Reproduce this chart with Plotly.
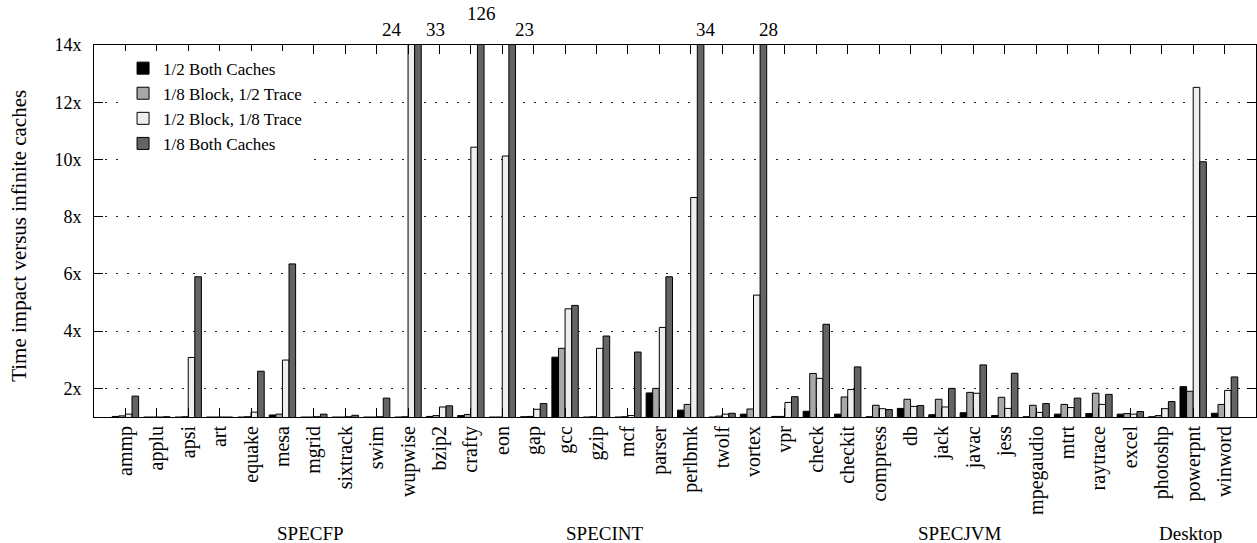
import plotly.graph_objects as go

benchmarks = ["ammp", "applu", "apsi", "art", "equake", "mesa", "mgrid", "sixtrack", "swim", "wupwise",
              "bzip2", "crafty", "eon", "gap", "gcc", "gzip", "mcf", "parser", "perlbmk", "twolf", "vortex", "vpr",
              "check", "checkit", "compress", "db", "jack", "javac", "jess", "mpegaudio", "mtrt", "raytrace",
              "excel", "photoshp", "powerpnt", "winword"]

series_names = ["1/2 Both Caches", "1/8 Block, 1/2 Trace", "1/2 Block, 1/8 Trace", "1/8 Both Caches"]

half_both = [1.02, 1.0, 1.0, 1.0, 1.0, 1.07, 1.0, 1.0, 1.0, 1.0,
             1.02, 1.05, 1.0, 1.01, 3.09, 1.0, 1.0, 1.84, 1.24, 1.0, 1.10, 1.02,
             1.20, 1.10, 1.01, 1.30, 1.08, 1.15, 1.05, 1.01, 1.10, 1.12,
             1.10, 1.01, 2.06, 1.13]
eighth_block_half_trace = [1.04, 1.0, 1.01, 1.0, 1.01, 1.10, 1.0, 1.0, 1.0, 1.01,
                           1.05, 1.09, 1.0, 1.02, 3.40, 1.01, 1.01, 2.00, 1.44, 1.03, 1.28, 1.02,
                           2.52, 1.70, 1.41, 1.62, 1.62, 1.86, 1.69, 1.41, 1.44, 1.83,
                           1.12, 1.05, 1.90, 1.44]
half_block_eighth_trace = [1.10, 1.0, 3.08, 1.0, 1.17, 2.99, 1.01, 1.01, 1.01, 24,
                           1.35, 10.43, 10.12, 1.27, 4.78, 3.40, 1.05, 4.13, 8.67, 1.10, 5.26, 1.51,
                           2.35, 1.96, 1.29, 1.37, 1.35, 1.83, 1.30, 1.16, 1.33, 1.44,
                           1.10, 1.29, 12.52, 1.93]
eighth_both = [1.73, 1.01, 5.90, 1.0, 2.60, 6.35, 1.10, 1.06, 1.66, 33,
               1.39, 126, 23, 1.47, 4.90, 3.83, 3.27, 5.90, 34, 1.13, 28, 1.71,
               4.24, 2.75, 1.26, 1.40, 2.00, 2.82, 2.53, 1.47, 1.66, 1.79,
               1.19, 1.54, 9.92, 2.40]

suite_names = ["SPECFP", "SPECINT", "SPECJVM", "Desktop"]
y_tick_values = [2, 4, 6, 8, 10, 12, 14]
y_tick_labels = ["2x", "4x", "6x", "8x", "10x", "12x", "14x"]

# ---- styling / layout (not data) ----
FONT = "Liberation Serif"
colors = ["#000000", "#a8a8a8", "#eeeeee", "#646464"]
y_min, y_max = 1, 14
suite_label_x = [5.9, 15.27, 26.59, 33.9]
# per-label offsets (px) for overflow value labels, in order of appearance
overflow_offsets = [(-19, 16), (18, 16), (1, 32), (12, 16), (5, 16), (5, 16)]

all_series = [half_both, eighth_block_half_trace, half_block_eighth_trace, eighth_both]
xs = list(range(len(benchmarks)))

fig = go.Figure()
for name, vals, col in zip(series_names, all_series, colors):
    fig.add_trace(go.Bar(
        x=xs, y=vals, name=name,
        marker=dict(color=col, line=dict(color="#000000", width=1)),
    ))

# overflow labels
bar_w = 0.21
offsets = [-1.5 * bar_w, -0.5 * bar_w, 0.5 * bar_w, 1.5 * bar_w]
k = 0
for ci in xs:
    for si, vals in enumerate(all_series):
        v = vals[ci]
        if v > y_max:
            dx, dy = overflow_offsets[k] if k < len(overflow_offsets) else (0, 16)
            fig.add_annotation(x=ci + offsets[si], y=1, xref="x", yref="paper",
                               text=f"{v:g}", showarrow=False, xshift=dx, yshift=dy,
                               yanchor="middle", font=dict(family=FONT, size=19, color="#000"))
            k += 1

for sx, sname in zip(suite_label_x, suite_names):
    fig.add_annotation(x=sx, y=0, xref="x", yref="paper", text=sname, showarrow=False,
                       yanchor="middle", yshift=-116, font=dict(family=FONT, size=19, color="#000"))

fig.add_annotation(x=0, y=0.487, xref="paper", yref="paper", text="Time impact versus infinite caches",
                   textangle=-90, showarrow=False, xshift=-75, xanchor="center", yanchor="middle",
                   font=dict(family=FONT, size=21, color="#000"))

fig.update_layout(
    width=1257, height=543,
    margin=dict(l=94, r=1, t=45, b=126, autoexpand=False),
    paper_bgcolor="white", plot_bgcolor="white",
    barmode="group", bargap=0.16, bargroupgap=0,
    font=dict(family=FONT, size=17, color="#000"),
    showlegend=True,
    legend=dict(x=0.025, y=0.985, xanchor="left", yanchor="top", bgcolor="white",
                font=dict(family=FONT, size=17, color="#000"), tracegroupgap=0),
    xaxis=dict(range=[-1, len(benchmarks)], tickmode="array", tickvals=xs, ticktext=benchmarks,
               tickangle=-90, ticks="inside", ticklen=9, tickcolor="#000", showline=True,
               linecolor="#000", linewidth=1, mirror="ticks", showgrid=False, zeroline=False,
               automargin=False,
               tickfont=dict(family=FONT, size=20, color="#000")),
    yaxis=dict(range=[y_min, y_max], tickmode="array", tickvals=y_tick_values, ticktext=y_tick_labels,
               ticks="inside", ticklen=9, tickcolor="#000", showline=True, linecolor="#000",
               linewidth=1, mirror="ticks", showgrid=True, gridcolor="#222", gridwidth=1,
               griddash="2px,9px", zeroline=False, ticklabelstandoff=8, automargin=False,
               tickfont=dict(family=FONT, size=18, color="#000")),
)

fig.write_html("out.html", config={"displayModeBar": False},
               post_script="document.body.style.margin='0';document.body.style.padding='0';")
